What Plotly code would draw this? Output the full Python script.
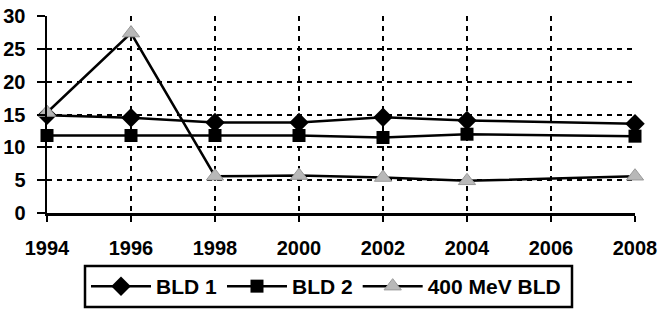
import plotly.graph_objects as go

years = [1994, 1996, 1998, 2000, 2002, 2004, 2008]
bld1 = [14.9, 14.5, 13.8, 13.8, 14.6, 14.1, 13.6]
bld2 = [11.8, 11.8, 11.8, 11.8, 11.5, 12.0, 11.7]
mev400 = [15.3, 27.4, 5.6, 5.7, 5.4, 4.9, 5.6]
names = ["BLD 1", "BLD 2", "400 MeV BLD"]

FONT = "Liberation Sans, Arial, sans-serif"

W, H = 660, 309
L, R, T, B = 47, 25, 16, 96
pw, ph = W - L - R, H - T - B

def px_x(p):  # page pixel -> paper x
    return (p - L) / pw

def px_y(p):  # page pixel -> paper y
    return (H - B - p) / ph

fig = go.Figure()
fig.add_trace(go.Scatter(x=years, y=bld1, name=names[0], mode="lines+markers",
                         line=dict(color="black", width=2.5),
                         marker=dict(symbol="diamond", size=15, color="black"),
                         cliponaxis=False))
fig.add_trace(go.Scatter(x=years, y=bld2, name=names[1], mode="lines+markers",
                         line=dict(color="black", width=2.5),
                         marker=dict(symbol="square", size=13, color="black"),
                         cliponaxis=False))
fig.add_trace(go.Scatter(x=years, y=mev400, name=names[2], mode="lines+markers",
                         line=dict(color="black", width=2.5),
                         marker=dict(symbol="triangle-up", size=15, color="#b8b8b8",
                                     line=dict(color="#9a9a9a", width=1)),
                         cliponaxis=False))

# legend frame
fig.add_shape(type="rect", xref="paper", yref="paper",
              x0=px_x(85), x1=px_x(572), y0=px_y(307), y1=px_y(266),
              line=dict(color="black", width=2.5), fillcolor="rgba(0,0,0,0)")

fig.update_layout(
    width=W, height=H,
    margin=dict(l=L, r=R, t=T, b=B),
    paper_bgcolor="white", plot_bgcolor="white",
    font=dict(family=FONT, size=21, color="black", weight="bold"),
    showlegend=True,
    legend=dict(orientation="h", xref="container", yref="container",
                x=326 / W, xanchor="center",
                y=1 - 286.5 / H, yanchor="middle",
                borderwidth=0, itemwidth=60, bgcolor="rgba(0,0,0,0)",
                font=dict(family=FONT, size=21, color="black", weight="bold"),
                traceorder="normal", tracegroupgap=0),
)
fig.update_xaxes(range=[1994, 2008], dtick=2, tick0=1994,
                 showline=True, linecolor="black", linewidth=2.5,
                 ticks="outside", ticklen=6, tickwidth=2, tickcolor="black",
                 showgrid=True, gridcolor="black", gridwidth=2, griddash="5px,5px",
                 zeroline=False, ticklabelstandoff=9, automargin=False,
                 ticklabeloverflow="allow",
                 tickfont=dict(family=FONT, size=20, weight="bold"))
fig.update_yaxes(range=[0, 30], dtick=5, tick0=0,
                 showline=True, linecolor="black", linewidth=2.5,
                 ticks="outside", ticklen=8, tickwidth=2, tickcolor="black",
                 showgrid=True, gridcolor="black", gridwidth=2, griddash="5px,5px",
                 zeroline=False, ticklabelstandoff=7, automargin=False,
                 ticklabeloverflow="allow",
                 tickfont=dict(family=FONT, size=20, weight="bold"))

fig.write_html("out.html",
               config={"displayModeBar": False, "staticPlot": True},
               post_script="document.body.style.margin='0';document.body.style.overflow='hidden';")
